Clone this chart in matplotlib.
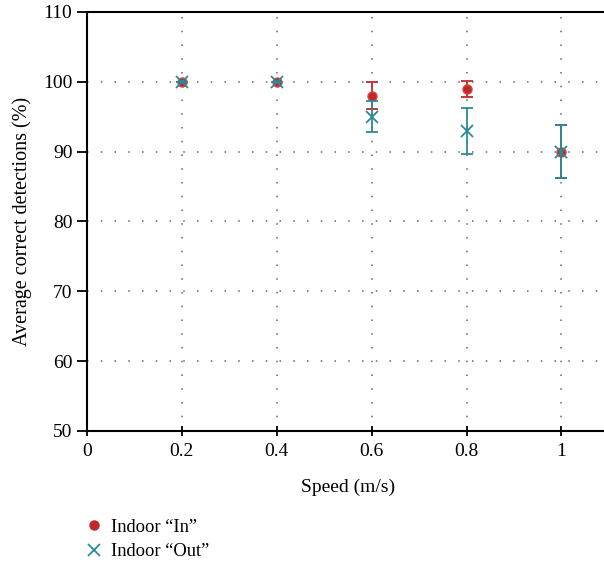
import matplotlib
matplotlib.use("Agg")
import matplotlib.pyplot as plt

plt.rcParams["font.family"] = ["Liberation Serif", "DejaVu Serif"]

# data
speeds = [0.2, 0.4, 0.6, 0.8, 1.0]
in_mean = [100, 100, 98.0, 99.0, 90.0]
in_err = [0, 0, 1.9, 1.15, 3.8]
out_mean = [100, 100, 95.0, 93.0, 90.0]
out_err = [0, 0, 2.25, 3.3, 3.8]

x_ticks = [0, 0.2, 0.4, 0.6, 0.8, 1.0]
x_labels = ["0", "0.2", "0.4", "0.6", "0.8", "1"]
y_ticks = [50, 60, 70, 80, 90, 100, 110]

RED = "#c0272d"
TEAL = "#2b8a9a"

fig = plt.figure(figsize=(6.04, 5.67), dpi=100)
ax = fig.add_axes([0.144, 0.240, 0.864, 0.739])

ax.errorbar(speeds, out_mean, yerr=out_err, fmt="x", color=TEAL, ms=9, mew=1.3,
            elinewidth=1.3, capsize=4.5, capthick=1.3, zorder=3)
ax.errorbar(speeds, in_mean, yerr=in_err, fmt="o", color=RED, mec="#d9452f", ms=6.5,
            elinewidth=1.3, capsize=4.5, capthick=1.3, zorder=2)

ax.set_xlim(0, 1.1)
ax.set_ylim(50, 110)
ax.set_xticks(x_ticks)
ax.set_xticklabels(x_labels)
ax.set_yticks(y_ticks)

ax.grid(True, linestyle=(0, (1, 8)), color="#666666", linewidth=1.1)
ax.set_axisbelow(True)
for s in ["left", "bottom", "top"]:
    ax.spines[s].set_linewidth(1.5)
ax.spines["right"].set_visible(False)

ax.tick_params(axis="x", direction="inout", length=7, width=1.3, labelsize=14, pad=5)
ax.tick_params(axis="y", direction="out", length=7, width=1.3, labelsize=14)

ax.set_xlabel("Speed (m/s)", fontsize=14, labelpad=14)
ax.set_ylabel("Average correct detections (%)", fontsize=14.5, labelpad=8)

h_in = plt.Line2D([], [], marker="o", ls="", color=RED, ms=6.5)
h_out = plt.Line2D([], [], marker="x", ls="", color=TEAL, ms=9, mew=1.3)
fig.legend([h_in, h_out], ["Indoor \u201cIn\u201d", "Indoor \u201cOut\u201d"],
           loc="upper left", bbox_to_anchor=(0.125, 0.098), frameon=False,
           fontsize=13.3, handletextpad=0.3, labelspacing=0.4, borderaxespad=0,
           handlelength=1.2)

fig.savefig("out.png", dpi=100)
